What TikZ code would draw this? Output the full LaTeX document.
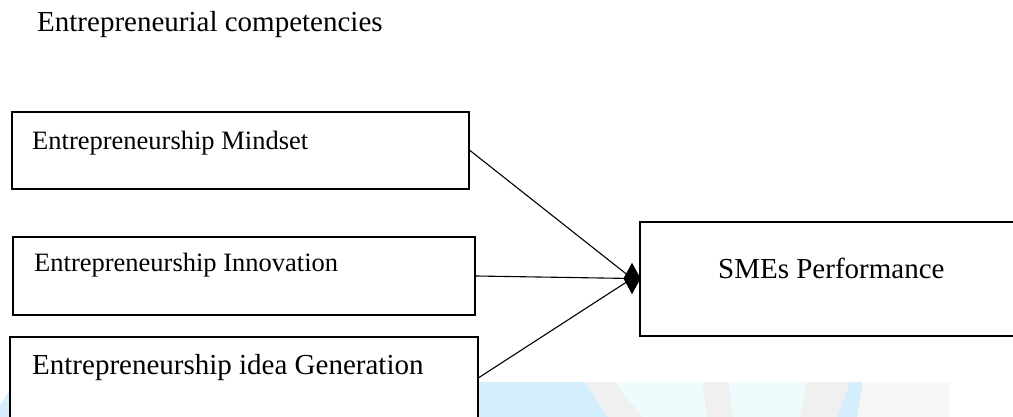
\documentclass[tikz,border=0pt]{standalone}
\usepackage{fontspec}
\setmainfont{Liberation Serif}
\usetikzlibrary{shapes.geometric}
\definecolor{wmblue}{HTML}{D4EEFC}
\definecolor{wmcyan}{HTML}{EFFCFD}
\definecolor{wmgrey}{HTML}{F0F0F0}
\definecolor{wmlight}{HTML}{F7F7F7}
\tikzset{
  box/.style={draw=black, line width=2pt, fill=white, rectangle, inner sep=0pt},
  smalltxt/.style={anchor=base west, inner sep=0pt, font=\fontsize{26.5}{30}\selectfont},
  bigtxt/.style={anchor=base west, inner sep=0pt, font=\fontsize{29}{33}\selectfont},
  link/.style={draw=black, line width=1.1pt},
  hubtip/.style={diamond, fill=black, draw=none, inner sep=0pt, minimum width=17pt, minimum height=31pt}
}
\begin{document}
\begin{tikzpicture}[x=1pt,y=-1pt]
\useasboundingbox (0,0) rectangle (1013,417);
\fill[white] (0,0) rectangle (1013,417);
% faint watermark
\fill[wmblue] (478,382) rectangle (862,417);
\fill[wmgrey] (585,382) -- (615,382) -- (642,417) -- (608,417) -- cycle;
\fill[wmcyan] (615,382) -- (703,382) -- (707,417) -- (642,417) -- cycle;
\fill[wmgrey] (703,382) -- (728,382) -- (733,417) -- (707,417) -- cycle;
\fill[wmcyan] (728,382) -- (807,382) -- (800,417) -- (733,417) -- cycle;
\fill[wmgrey] (807,382) -- (850,382) -- (837,417) -- (800,417) -- cycle;
\fill[wmlight] (863,382) -- (950,382) -- (950,417) -- (857,417) -- cycle;
\fill[wmblue] (0,405) -- (10,390) -- (10,417) -- (0,417) -- cycle;

\node[bigtxt] (title) at (37,32) {Entrepreneurial competencies};

\node[box, minimum width=457pt, minimum height=77pt] (m) at (240.5,150.5) {};
\node[smalltxt] (mt) at (32,150) {Entrepreneurship Mindset};

\node[box, minimum width=462pt, minimum height=78pt] (i) at (244,276) {};
\node[smalltxt] (it) at (34,272) {Entrepreneurship Innovation};

\node[box, minimum width=468pt, minimum height=81pt] (g) at (244,377.5) {};
\node[bigtxt] (gt) at (32,374) {Entrepreneurship idea Generation};

\node[box, minimum width=376pt, minimum height=114pt] (s) at (828,279) {};
\node[bigtxt] (st) at (718,278) {SMEs Performance};

\node[hubtip] (hub) at (632,278.5) {};
\draw[link] (m.east) -- (hub.center);
\draw[link] (i.east) -- (hub.center);
\draw[link] (g.east) -- (hub.center);
\node[hubtip] at (hub.center) {};
\end{tikzpicture}
\end{document}
